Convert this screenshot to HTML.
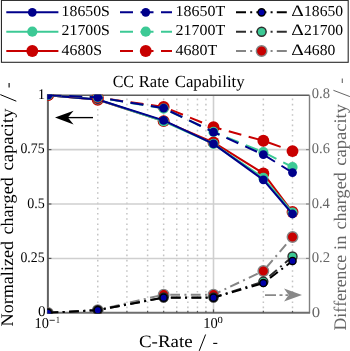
<!DOCTYPE html><html><head><meta charset="utf-8"><style>html,body{margin:0;padding:0;background:#fff;overflow:hidden}svg{display:block}text{font-family:"Liberation Serif",serif;font-kerning:none;text-rendering:geometricPrecision}</style></head><body>
<svg width="350" height="351" viewBox="0 0 350 351">
<rect width="350" height="351" fill="#fff"/>
<defs><clipPath id="pc"><rect x="47.30" y="94.55" width="262.80" height="218.90"/></clipPath></defs>
<line x1="97.75" y1="98.60" x2="97.75" y2="312.85" stroke="#c4c4c4" stroke-width="1.5" stroke-dasharray="1.6 3.6"/>
<line x1="126.91" y1="98.60" x2="126.91" y2="312.85" stroke="#c4c4c4" stroke-width="1.5" stroke-dasharray="1.6 3.6"/>
<line x1="147.60" y1="98.60" x2="147.60" y2="312.85" stroke="#c4c4c4" stroke-width="1.5" stroke-dasharray="1.6 3.6"/>
<line x1="163.65" y1="98.60" x2="163.65" y2="312.85" stroke="#c4c4c4" stroke-width="1.5" stroke-dasharray="1.6 3.6"/>
<line x1="176.76" y1="98.60" x2="176.76" y2="312.85" stroke="#c4c4c4" stroke-width="1.5" stroke-dasharray="1.6 3.6"/>
<line x1="187.85" y1="98.60" x2="187.85" y2="312.85" stroke="#c4c4c4" stroke-width="1.5" stroke-dasharray="1.6 3.6"/>
<line x1="197.45" y1="98.60" x2="197.45" y2="312.85" stroke="#c4c4c4" stroke-width="1.5" stroke-dasharray="1.6 3.6"/>
<line x1="205.92" y1="98.60" x2="205.92" y2="312.85" stroke="#c4c4c4" stroke-width="1.5" stroke-dasharray="1.6 3.6"/>
<line x1="263.35" y1="98.60" x2="263.35" y2="312.85" stroke="#c4c4c4" stroke-width="1.5" stroke-dasharray="1.6 3.6"/>
<line x1="292.51" y1="98.60" x2="292.51" y2="312.85" stroke="#c4c4c4" stroke-width="1.5" stroke-dasharray="1.6 3.6"/>
<line x1="213.50" y1="95.15" x2="213.50" y2="312.85" stroke="#cfcfcf" stroke-width="1.6"/>
<line x1="47.90" y1="258.43" x2="309.50" y2="258.43" stroke="#cfcfcf" stroke-width="1.6"/>
<line x1="47.90" y1="204.00" x2="309.50" y2="204.00" stroke="#cfcfcf" stroke-width="1.6"/>
<line x1="47.90" y1="149.58" x2="309.50" y2="149.58" stroke="#cfcfcf" stroke-width="1.6"/>
<line x1="47.90" y1="95.15" x2="309.50" y2="95.15" stroke="#5c5c5c" stroke-width="1.5"/>
<line x1="309.50" y1="95.15" x2="309.50" y2="312.85" stroke="#808080" stroke-width="1.4"/>
<line x1="46.90" y1="312.85" x2="310.10" y2="312.85" stroke="#6e6e6e" stroke-width="2"/>
<line x1="47.90" y1="94.35" x2="47.90" y2="313.85" stroke="#626262" stroke-width="2"/>
<line x1="47.90" y1="258.43" x2="51.40" y2="258.43" stroke="#555" stroke-width="1.2"/>
<line x1="309.50" y1="258.43" x2="306.00" y2="258.43" stroke="#888" stroke-width="1.2"/>
<line x1="47.90" y1="204.00" x2="51.40" y2="204.00" stroke="#555" stroke-width="1.2"/>
<line x1="309.50" y1="204.00" x2="306.00" y2="204.00" stroke="#888" stroke-width="1.2"/>
<line x1="47.90" y1="149.58" x2="51.40" y2="149.58" stroke="#555" stroke-width="1.2"/>
<line x1="309.50" y1="149.58" x2="306.00" y2="149.58" stroke="#888" stroke-width="1.2"/>
<line x1="97.75" y1="312.85" x2="97.75" y2="310.85" stroke="#555" stroke-width="1.2"/>
<line x1="126.91" y1="312.85" x2="126.91" y2="310.85" stroke="#555" stroke-width="1.2"/>
<line x1="147.60" y1="312.85" x2="147.60" y2="310.85" stroke="#555" stroke-width="1.2"/>
<line x1="163.65" y1="312.85" x2="163.65" y2="310.85" stroke="#555" stroke-width="1.2"/>
<line x1="176.76" y1="312.85" x2="176.76" y2="310.85" stroke="#555" stroke-width="1.2"/>
<line x1="187.85" y1="312.85" x2="187.85" y2="310.85" stroke="#555" stroke-width="1.2"/>
<line x1="197.45" y1="312.85" x2="197.45" y2="310.85" stroke="#555" stroke-width="1.2"/>
<line x1="205.92" y1="312.85" x2="205.92" y2="310.85" stroke="#555" stroke-width="1.2"/>
<line x1="213.50" y1="312.85" x2="213.50" y2="309.35" stroke="#555" stroke-width="1.2"/>
<line x1="263.35" y1="312.85" x2="263.35" y2="310.85" stroke="#555" stroke-width="1.2"/>
<line x1="292.51" y1="312.85" x2="292.51" y2="310.85" stroke="#555" stroke-width="1.2"/>
<g clip-path="url(#pc)">
<polyline points="47.90,95.15 97.75,99.72 163.65,121.14 213.50,142.39 263.35,173.41 292.51,212.05" fill="none" stroke="#C80000" stroke-width="2.00" stroke-linejoin="round"/>
<circle cx="47.90" cy="95.15" r="5.95" fill="#C80000"/>
<circle cx="97.75" cy="99.72" r="5.95" fill="#C80000"/>
<circle cx="163.65" cy="121.14" r="5.95" fill="#C80000"/>
<circle cx="213.50" cy="142.39" r="5.95" fill="#C80000"/>
<circle cx="263.35" cy="173.41" r="5.95" fill="#C80000"/>
<circle cx="292.51" cy="212.05" r="5.95" fill="#C80000"/>
<polyline points="47.90,95.15 97.75,99.50 163.65,121.27 213.50,143.91 263.35,177.88 292.51,212.49" fill="none" stroke="#3CC995" stroke-width="2.00" stroke-linejoin="round"/>
<circle cx="47.90" cy="95.15" r="5.10" fill="#3CC995"/>
<circle cx="97.75" cy="99.50" r="5.10" fill="#3CC995"/>
<circle cx="163.65" cy="121.27" r="5.10" fill="#3CC995"/>
<circle cx="213.50" cy="143.91" r="5.10" fill="#3CC995"/>
<circle cx="263.35" cy="177.88" r="5.10" fill="#3CC995"/>
<circle cx="292.51" cy="212.49" r="5.10" fill="#3CC995"/>
<polyline points="47.90,95.15 97.75,99.50 163.65,120.40 213.50,143.91 263.35,179.84 292.51,214.01" fill="none" stroke="#00008B" stroke-width="2.00" stroke-linejoin="round"/>
<circle cx="47.90" cy="95.15" r="4.40" fill="#00008B"/>
<circle cx="97.75" cy="99.50" r="4.40" fill="#00008B"/>
<circle cx="163.65" cy="120.40" r="4.40" fill="#00008B"/>
<circle cx="213.50" cy="143.91" r="4.40" fill="#00008B"/>
<circle cx="263.35" cy="179.84" r="4.40" fill="#00008B"/>
<circle cx="292.51" cy="214.01" r="4.40" fill="#00008B"/>
<polyline points="47.90,95.15 97.75,97.54 163.65,106.91 213.50,127.15 263.35,140.74 292.51,151.10" fill="none" stroke="#C80000" stroke-width="2.00" stroke-dasharray="13 7.6" stroke-dashoffset="-0.70" stroke-linejoin="round"/>
<circle cx="47.90" cy="95.15" r="5.95" fill="#C80000"/>
<circle cx="97.75" cy="97.54" r="5.95" fill="#C80000"/>
<circle cx="163.65" cy="106.91" r="5.95" fill="#C80000"/>
<circle cx="213.50" cy="127.15" r="5.95" fill="#C80000"/>
<circle cx="263.35" cy="140.74" r="5.95" fill="#C80000"/>
<circle cx="292.51" cy="151.10" r="5.95" fill="#C80000"/>
<polyline points="47.90,95.15 97.75,97.33 163.65,108.54 213.50,131.94 263.35,152.19 292.51,166.99" fill="none" stroke="#3CC995" stroke-width="2.00" stroke-dasharray="13 7.6" stroke-dashoffset="-0.70" stroke-linejoin="round"/>
<circle cx="47.90" cy="95.15" r="5.10" fill="#3CC995"/>
<circle cx="97.75" cy="97.33" r="5.10" fill="#3CC995"/>
<circle cx="163.65" cy="108.54" r="5.10" fill="#3CC995"/>
<circle cx="213.50" cy="131.94" r="5.10" fill="#3CC995"/>
<circle cx="263.35" cy="152.19" r="5.10" fill="#3CC995"/>
<circle cx="292.51" cy="166.99" r="5.10" fill="#3CC995"/>
<polyline points="47.90,95.15 97.75,97.33 163.65,108.21 213.50,132.05 263.35,154.65 292.51,172.54" fill="none" stroke="#00008B" stroke-width="2.00" stroke-dasharray="13 7.6" stroke-dashoffset="-0.70" stroke-linejoin="round"/>
<circle cx="47.90" cy="95.15" r="4.40" fill="#00008B"/>
<circle cx="97.75" cy="97.33" r="4.40" fill="#00008B"/>
<circle cx="163.65" cy="108.21" r="4.40" fill="#00008B"/>
<circle cx="213.50" cy="132.05" r="4.40" fill="#00008B"/>
<circle cx="263.35" cy="154.65" r="4.40" fill="#00008B"/>
<circle cx="292.51" cy="172.54" r="4.40" fill="#00008B"/>
<polyline points="47.90,312.85 97.75,310.13 163.65,294.64 213.50,294.64 263.35,270.94 292.51,237.06" fill="none" stroke="#858585" stroke-width="2.00" stroke-dasharray="9.8 4.4 2.0 4.4" stroke-dashoffset="-0.60" stroke-linejoin="round"/>
<circle cx="47.90" cy="312.85" r="5.25" fill="#C80000" stroke="#858585" stroke-width="1.40"/>
<circle cx="97.75" cy="310.13" r="5.25" fill="#C80000" stroke="#858585" stroke-width="1.40"/>
<circle cx="163.65" cy="294.64" r="5.25" fill="#C80000" stroke="#858585" stroke-width="1.40"/>
<circle cx="213.50" cy="294.64" r="5.25" fill="#C80000" stroke="#858585" stroke-width="1.40"/>
<circle cx="263.35" cy="270.94" r="5.25" fill="#C80000" stroke="#858585" stroke-width="1.40"/>
<circle cx="292.51" cy="237.06" r="5.25" fill="#C80000" stroke="#858585" stroke-width="1.40"/>
<polyline points="47.90,312.85 97.75,310.13 163.65,297.47 213.50,297.47 263.35,281.56 292.51,256.52" fill="none" stroke="#2e2e2e" stroke-width="2.00" stroke-dasharray="9.8 4.4 2.0 4.4" stroke-dashoffset="-0.60" stroke-linejoin="round"/>
<circle cx="47.90" cy="312.85" r="4.50" fill="#3CC995" stroke="#2e2e2e" stroke-width="1.40"/>
<circle cx="97.75" cy="310.13" r="4.50" fill="#3CC995" stroke="#2e2e2e" stroke-width="1.40"/>
<circle cx="163.65" cy="297.47" r="4.50" fill="#3CC995" stroke="#2e2e2e" stroke-width="1.40"/>
<circle cx="213.50" cy="297.47" r="4.50" fill="#3CC995" stroke="#2e2e2e" stroke-width="1.40"/>
<circle cx="263.35" cy="281.56" r="4.50" fill="#3CC995" stroke="#2e2e2e" stroke-width="1.40"/>
<circle cx="292.51" cy="256.52" r="4.50" fill="#3CC995" stroke="#2e2e2e" stroke-width="1.40"/>
<polyline points="47.90,312.85 97.75,310.13 163.65,297.64 213.50,297.64 263.35,283.05 292.51,260.96" fill="none" stroke="#000000" stroke-width="2.00" stroke-dasharray="9.8 4.4 2.0 4.4" stroke-dashoffset="-0.60" stroke-linejoin="round"/>
<circle cx="47.90" cy="312.85" r="3.60" fill="#0000A8" stroke="#000000" stroke-width="1.40"/>
<circle cx="97.75" cy="310.13" r="3.60" fill="#0000A8" stroke="#000000" stroke-width="1.40"/>
<circle cx="163.65" cy="297.64" r="3.60" fill="#0000A8" stroke="#000000" stroke-width="1.40"/>
<circle cx="213.50" cy="297.64" r="3.60" fill="#0000A8" stroke="#000000" stroke-width="1.40"/>
<circle cx="263.35" cy="283.05" r="3.60" fill="#0000A8" stroke="#000000" stroke-width="1.40"/>
<circle cx="292.51" cy="260.96" r="3.60" fill="#0000A8" stroke="#000000" stroke-width="1.40"/>
</g>
<line x1="49.5" y1="320.3" x2="54.8" y2="320.3" stroke="#000" stroke-width="0.8"/>
<line x1="199.2" y1="350.9" x2="205.6" y2="334.5" stroke="#000" stroke-width="1.0"/>
<line x1="213.2" y1="343.4" x2="217.3" y2="343.4" stroke="#000" stroke-width="1.1"/>
<line x1="16.3" y1="101.2" x2="0.3" y2="94.6" stroke="#000" stroke-width="1.0"/>
<line x1="9.1" y1="83.1" x2="9.1" y2="87.5" stroke="#000" stroke-width="1.1"/>
<line x1="349.9" y1="96.6" x2="333.4" y2="90.3" stroke="#666666" stroke-width="1.0"/>
<line x1="342.3" y1="78.6" x2="342.3" y2="83.0" stroke="#666666" stroke-width="1.1"/>
<line x1="67" y1="117.6" x2="93" y2="117.6" stroke="#000" stroke-width="1.35"/>
<path d="M55,117.6 L73.6,110.7 L67.9,117.6 L73.6,124.4 Z" fill="#000"/>
<line x1="265" y1="295.1" x2="288" y2="295.1" stroke="#888" stroke-width="1.6" stroke-dasharray="11 3.5 3 3"/>
<path d="M302,295.1 L284,288.4 L288.7,295.1 L284,301.4 Z" fill="#888"/>
<rect x="1.45" y="0.4" width="346.75" height="61.9" fill="#fff" stroke="#2a2a2a" stroke-width="1.1"/>
<line x1="6.3" y1="12.35" x2="58.4" y2="12.35" stroke="#00008B" stroke-width="2"/>
<circle cx="32.3" cy="12.35" r="4.40" fill="#00008B"/>
<line x1="120" y1="12.35" x2="172" y2="12.35" stroke="#00008B" stroke-width="2" stroke-dasharray="13 7.5"/>
<circle cx="145.75" cy="12.35" r="4.40" fill="#00008B"/>
<line x1="236" y1="12.35" x2="287.5" y2="12.35" stroke="#000000" stroke-width="2" stroke-dasharray="10 4.2 2 4.2"/>
<circle cx="261.6" cy="12.35" r="3.60" fill="#0000A8" stroke="#000000" stroke-width="1.40"/>
<line x1="6.3" y1="31.70" x2="58.4" y2="31.70" stroke="#3CC995" stroke-width="2"/>
<circle cx="32.3" cy="31.70" r="5.10" fill="#3CC995"/>
<line x1="120" y1="31.70" x2="172" y2="31.70" stroke="#3CC995" stroke-width="2" stroke-dasharray="13 7.5"/>
<circle cx="145.75" cy="31.70" r="5.10" fill="#3CC995"/>
<line x1="236" y1="31.70" x2="287.5" y2="31.70" stroke="#2e2e2e" stroke-width="2" stroke-dasharray="10 4.2 2 4.2"/>
<circle cx="261.6" cy="31.70" r="4.50" fill="#3CC995" stroke="#2e2e2e" stroke-width="1.40"/>
<line x1="6.3" y1="51.00" x2="58.4" y2="51.00" stroke="#C80000" stroke-width="2"/>
<circle cx="32.3" cy="51.00" r="5.95" fill="#C80000"/>
<line x1="120" y1="51.00" x2="172" y2="51.00" stroke="#C80000" stroke-width="2" stroke-dasharray="13 7.5"/>
<circle cx="145.75" cy="51.00" r="5.95" fill="#C80000"/>
<line x1="236" y1="51.00" x2="287.5" y2="51.00" stroke="#858585" stroke-width="2" stroke-dasharray="10 4.2 2 4.2"/>
<circle cx="261.6" cy="51.00" r="5.25" fill="#C80000" stroke="#858585" stroke-width="1.40"/>
<g opacity="0.999"><text transform="translate(37.80,98.55) scale(1.0048,1)" font-size="14.70" fill="#000">1</text><text transform="translate(20.47,153.35) scale(0.9394,1)" font-size="14.70" fill="#000">0.75</text><text transform="translate(27.26,207.75) scale(0.9570,1)" font-size="14.70" fill="#000">0.5</text><text transform="translate(20.47,262.45) scale(0.9394,1)" font-size="14.70" fill="#000">0.25</text><text transform="translate(38.02,316.35) scale(1.0433,1)" font-size="14.70" fill="#000">0</text><text transform="translate(311.75,98.45) scale(0.9910,1)" font-size="14.70" fill="#666666">0.8</text><text transform="translate(311.75,152.95) scale(0.9898,1)" font-size="14.70" fill="#666666">0.6</text><text transform="translate(311.75,207.55) scale(0.9838,1)" font-size="14.70" fill="#666666">0.4</text><text transform="translate(311.74,261.85) scale(1.0056,1)" font-size="14.70" fill="#666666">0.2</text><text transform="translate(311.66,316.55) scale(1.1396,1)" font-size="14.70" fill="#666666">0</text><text transform="translate(203.32,327.90) scale(0.9687,1)" font-size="15.00" fill="#000">10</text><text transform="translate(217.50,322.80) scale(1.1295,1)" font-size="9.40" fill="#000">0</text><text transform="translate(34.43,327.50) scale(0.9611,1)" font-size="15.00" fill="#000">10</text><text transform="translate(56.03,322.50) scale(0.7989,1)" font-size="9.60" fill="#000">1</text><text transform="translate(138.92,346.90) scale(1.0903,1)" font-size="17.40" fill="#000">C-Rate</text><text transform="translate(13.00,326.42) rotate(-90) scale(1.0239,1)" font-size="17.70" fill="#000">Normalized</text><text transform="translate(13.00,234.49) rotate(-90) scale(1.0214,1)" font-size="17.70" fill="#000">charged</text><text transform="translate(13.00,170.51) rotate(-90) scale(1.0530,1)" font-size="17.70" fill="#000">capacity</text><text transform="translate(345.90,330.41) rotate(-90) scale(0.9982,1)" font-size="17.70" fill="#666666">Difference</text><text transform="translate(345.90,249.99) rotate(-90) scale(1.0436,1)" font-size="17.70" fill="#666666">in</text><text transform="translate(345.90,229.59) rotate(-90) scale(1.0250,1)" font-size="17.70" fill="#666666">charged</text><text transform="translate(345.90,165.71) rotate(-90) scale(1.0461,1)" font-size="17.70" fill="#666666">capacity</text><text transform="translate(112.64,86.90) scale(0.9410,1)" font-size="17.00" fill="#000">CC</text><text transform="translate(138.82,86.90) scale(0.9743,1)" font-size="17.00" fill="#000">Rate</text><text transform="translate(174.71,86.90) scale(0.9877,1)" font-size="17.00" fill="#000">Capability</text><text transform="translate(61.61,15.85) scale(1.0350,1)" font-size="15.26">18650S</text><text transform="translate(175.50,15.85) scale(1.0463,1)" font-size="15.26">18650T</text><text transform="translate(291.25,15.85) scale(1.2227,1)" font-size="16.00" fill="#000">Δ</text><text transform="translate(304.03,15.85) scale(1.0241,1)" font-size="15.26">18650</text><text transform="translate(61.61,35.35) scale(1.0350,1)" font-size="15.26">21700S</text><text transform="translate(175.50,35.35) scale(1.0463,1)" font-size="15.26">21700T</text><text transform="translate(291.25,35.35) scale(1.2227,1)" font-size="16.00" fill="#000">Δ</text><text transform="translate(304.03,35.35) scale(1.0241,1)" font-size="15.26">21700</text><text transform="translate(61.61,54.85) scale(1.0350,1)" font-size="15.26">4680S</text><text transform="translate(175.50,54.85) scale(1.0463,1)" font-size="15.26">4680T</text><text transform="translate(291.25,54.85) scale(1.2227,1)" font-size="16.00" fill="#000">Δ</text><text transform="translate(304.03,54.85) scale(1.0241,1)" font-size="15.26">4680</text></g>
</svg></body></html>
